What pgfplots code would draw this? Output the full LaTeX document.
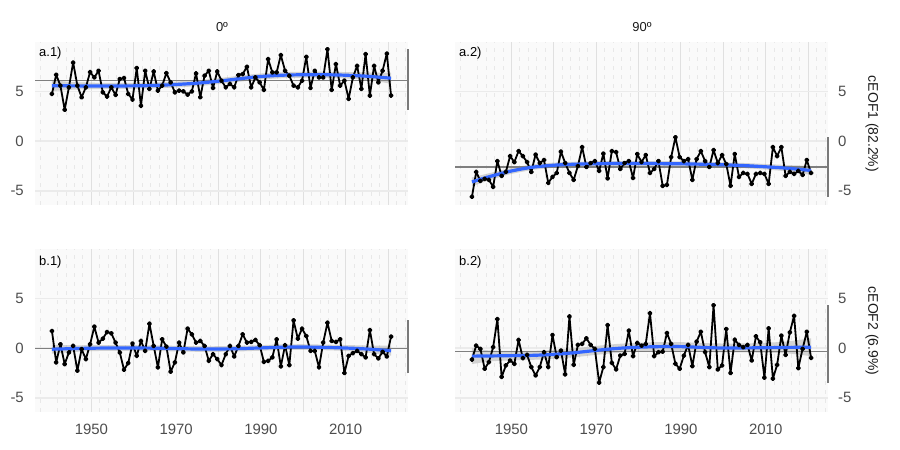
\documentclass[border=0pt]{standalone}
\usepackage{pgfplots}
\pgfplotsset{compat=1.18}
\usepackage{pgfplotstable}
\usepgfplotslibrary{fillbetween}
\usepackage{fontspec}
\setmainfont{Liberation Sans}
\definecolor{panelbg}{HTML}{FAFAFA}
\definecolor{gridx}{HTML}{E0E0E0}
\definecolor{gridy}{HTML}{EBEBEB}
\definecolor{dashc}{HTML}{E8E8E8}
\definecolor{tickc}{HTML}{4D4D4D}
\definecolor{stripc}{HTML}{1A1A1A}
\definecolor{smoothc}{HTML}{3366FF}
\definecolor{bandc}{HTML}{999999}
\definecolor{meanc}{HTML}{7F7F7F}
\definecolor{rangec}{HTML}{7A7A7A}

\pgfplotstableread{
year a1 a2 b1 b2
1941 4.77 -5.6 1.73 -1.14
1942 6.70 -3.1 -1.43 0.26
1943 5.60 -4.0 0.40 -0.07
1944 3.17 -3.8 -1.60 -2.07
1945 5.43 -3.9 -0.43 -1.40
1946 7.93 -4.6 0.23 0.10
1947 5.60 -2.0 -2.27 2.93
1948 4.43 -3.5 -0.10 -2.90
1949 5.43 -3.1 -1.10 -1.74
1950 6.97 -1.5 0.40 -1.24
1951 6.43 -2.1 2.17 -1.57
1952 7.10 -1.0 0.57 0.83
1953 4.93 -1.5 0.97 -1.00
1954 4.50 -2.1 1.63 -0.67
1955 5.43 -3.1 1.50 -1.90
1956 4.67 -1.35 0.57 -2.74
1957 6.27 -2.2 -0.43 -1.90
1958 6.37 -1.9 -2.17 -0.40
1959 4.77 -4.2 -1.50 -1.90
1960 4.20 -3.6 0.47 1.33
1961 7.37 -3.2 -0.77 -0.90
1962 3.57 -1.05 0.73 -0.24
1963 7.10 -2.2 -0.27 -2.64
1964 5.27 -3.2 2.47 3.20
1965 7.03 -3.9 0.23 -1.67
1966 5.10 -2.5 -1.93 0.33
1967 5.60 -0.6 0.90 0.43
1968 6.87 -2.6 0.17 1.00
1969 5.93 -2.2 -2.37 0.33
1970 4.93 -2.0 -1.43 -0.07
1971 5.10 -3.0 0.57 -3.47
1972 5.03 -1.25 -0.43 -1.90
1973 4.70 -3.75 1.97 2.33
1974 5.03 -1.0 1.40 -1.47
1975 6.83 -1.1 0.57 -2.14
1976 4.43 -2.8 0.73 -0.74
1977 6.60 -2.2 0.23 -0.57
1978 7.10 -2.0 -1.27 1.77
1979 5.37 -3.7 -0.60 -0.80
1980 7.03 -1.3 -1.10 0.53
1981 6.10 -2.1 -1.70 0.26
1982 5.43 -1.4 -0.60 0.43
1983 5.77 -3.2 0.23 3.53
1984 5.43 -2.8 -0.83 -0.80
1985 6.67 -2.0 0.23 -0.40
1986 6.77 -4.5 1.40 -0.34
1987 7.50 -4.4 0.57 1.53
1988 5.43 -1.6 0.63 0.43
1989 6.43 0.4 0.83 -1.57
1990 5.93 -1.6 0.30 -2.07
1991 5.17 -2.0 -1.37 -0.74
1992 8.27 -1.8 -1.27 0.33
1993 6.93 -3.9 -0.93 -1.80
1994 6.93 -1.8 0.90 0.66
1995 8.67 -1.0 -1.83 1.66
1996 7.10 -2.0 0.30 -0.40
1997 6.60 -2.6 -1.70 -1.90
1998 5.60 -0.9 2.80 4.33
1999 5.43 -2.2 0.97 -2.14
2000 6.10 -1.4 1.97 -1.74
2001 8.50 -2.3 1.23 1.93
2002 5.37 -4.5 -0.27 -2.50
2003 7.10 -1.3 -0.27 0.86
2004 6.43 -3.6 -1.93 0.33
2005 6.43 -3.2 0.57 0.10
2006 9.27 -3.3 2.57 0.33
2007 5.17 -4.3 0.73 -1.24
2008 7.77 -3.3 0.63 1.20
2009 5.60 -3.2 0.90 0.60
2010 6.10 -3.3 -2.50 -2.97
2011 4.27 -4.3 -0.77 2.00
2012 6.43 -0.6 -0.50 -3.07
2013 7.60 -1.5 -0.27 -1.67
2014 5.27 -0.6 -0.60 1.26
2015 8.77 -3.5 -0.93 -0.67
2016 4.60 -3.1 1.83 1.60
2017 7.60 -3.3 -0.60 3.26
2018 5.93 -3.0 -1.03 -2.00
2019 7.10 -3.4 -0.37 -0.07
2020 8.83 -1.9 -0.83 1.66
2021 4.60 -3.2 1.17 -0.97
}\series

\pgfplotstableread{
year m1 h1 m2 h2 m3 h3 m4 h4
1940.7 5.60 0.55 -4.10 0.45 -0.10 0.45 -0.80 0.80
1945 5.58 0.40 -3.55 0.35 -0.05 0.35 -0.78 0.55
1950 5.57 0.33 -3.00 0.30 0.00 0.30 -0.75 0.48
1955 5.57 0.30 -2.62 0.28 0.02 0.28 -0.72 0.45
1960 5.58 0.30 -2.42 0.26 0.02 0.28 -0.62 0.45
1965 5.62 0.30 -2.32 0.25 0.00 0.28 -0.45 0.45
1970 5.72 0.30 -2.27 0.25 -0.04 0.28 -0.22 0.45
1975 5.85 0.30 -2.25 0.25 -0.08 0.28 -0.02 0.45
1980 6.05 0.30 -2.25 0.25 -0.08 0.28 0.10 0.45
1985 6.30 0.30 -2.26 0.25 -0.04 0.28 0.16 0.45
1990 6.52 0.30 -2.28 0.25 0.03 0.28 0.16 0.45
1995 6.65 0.30 -2.32 0.25 0.10 0.28 0.08 0.45
2000 6.70 0.30 -2.38 0.25 0.12 0.28 0.02 0.45
2005 6.70 0.30 -2.46 0.26 0.08 0.28 0.03 0.45
2010 6.65 0.32 -2.58 0.28 0.02 0.30 0.05 0.50
2015 6.55 0.38 -2.72 0.32 -0.08 0.35 0.08 0.60
2020.7 6.35 0.55 -2.95 0.45 -0.25 0.50 0.10 0.90
}\smoothtab

\pgfplotsset{
  panel/.style={
    scale only axis, width=373bp, height=163bp,
    anchor=south west,
    xmin=1936.7, xmax=2024.7, ymin=-6.43, ymax=10.0,
    axis line style={draw=none},
    axis background/.style={fill=panelbg},
    tick style={draw=none}, major tick length=0pt, minor tick length=0pt,
    xtick={1950,1970,1990,2010},
    minor xtick={1960,1980,2000,2020},
    ytick={-5,0,5},
    grid=both,
    major x grid style={gridx, line width=1bp},
    minor x grid style={gridx, line width=1bp},
    major y grid style={gridy, line width=1.6bp},
    extra x ticks={1938,1942,1944,1946,1948,1952,1954,1956,1958,1962,1964,1966,1968,1972,1974,1976,1978,1982,1984,1986,1988,1992,1994,1996,1998,2002,2004,2006,2008,2012,2014,2016,2018,2022,2024},
    extra x tick labels={},
    extra x tick style={grid=major,
      major x grid style={dashc, line width=0.8bp, dash pattern=on 4bp off 5bp},
      major grid style={dashc, line width=0.8bp, dash pattern=on 4bp off 5bp}},
    /pgf/number format/assume math mode=true,
    /pgf/number format/1000 sep={},
    ticklabel style={font=\fontsize{15}{17}\selectfont, text=tickc, inner sep=0pt},
    xticklabel style={yshift=-12bp},
    clip=false,
  },
  leftpanel/.style={panel, yticklabel style={xshift=-11bp}},
  rightpanel/.style={panel, yticklabel pos=right, yticklabel style={xshift=10bp}},
  toppanel/.style={xticklabels={}},
  datal/.style={black, line width=1.8bp, line join=round, line cap=round, mark=*, mark size=1.6bp, mark options={solid}},
  smoothl/.style={smoothc, line width=3.2bp, smooth, line join=round},
  bandf/.style={fill=bandc, fill opacity=0.4, draw=none},
  meanl/.style={meanc, line width=1.1bp},
  rangel/.style={rangec, line width=1.2bp},
}

\begin{document}
\begin{tikzpicture}
\path (0,0) rectangle (900bp,450bp);

% a.1
\begin{axis}[leftpanel, toppanel, at={(35bp,245bp)}]
\addplot[meanl] coordinates {(1936.7,6.1) (2024.7,6.1)};
\addplot[name path=up1, draw=none, smooth] table[x=year, y expr=\thisrow{m1}+\thisrow{h1}] {\smoothtab};
\addplot[name path=lo1, draw=none, smooth] table[x=year, y expr=\thisrow{m1}-\thisrow{h1}] {\smoothtab};
\addplot[bandf] fill between[of=up1 and lo1];
\addplot[datal] table[x expr=\thisrow{year}-0.3, y=a1] {\series};
\addplot[smoothl] table[x=year, y=m1] {\smoothtab};
\addplot[rangel] coordinates {(2024.7,3.17) (2024.7,9.27)};
\end{axis}

% a.2
\begin{axis}[rightpanel, toppanel, at={(455bp,245bp)}]
\addplot[meanl] coordinates {(1936.7,-2.6) (2024.7,-2.6)};
\addplot[name path=up2, draw=none, smooth] table[x=year, y expr=\thisrow{m2}+\thisrow{h2}] {\smoothtab};
\addplot[name path=lo2, draw=none, smooth] table[x=year, y expr=\thisrow{m2}-\thisrow{h2}] {\smoothtab};
\addplot[bandf] fill between[of=up2 and lo2];
\addplot[datal] table[x expr=\thisrow{year}-0.3, y=a2] {\series};
\addplot[smoothl] table[x=year, y=m2] {\smoothtab};
\addplot[rangel] coordinates {(2024.7,-5.6) (2024.7,0.4)};
\end{axis}

% b.1
\begin{axis}[leftpanel, at={(35bp,38bp)}]
\addplot[meanl] coordinates {(1936.7,0) (2024.7,0)};
\addplot[name path=up3, draw=none, smooth] table[x=year, y expr=\thisrow{m3}+\thisrow{h3}] {\smoothtab};
\addplot[name path=lo3, draw=none, smooth] table[x=year, y expr=\thisrow{m3}-\thisrow{h3}] {\smoothtab};
\addplot[bandf] fill between[of=up3 and lo3];
\addplot[datal] table[x expr=\thisrow{year}-0.3, y=b1] {\series};
\addplot[smoothl] table[x=year, y=m3] {\smoothtab};
\addplot[rangel] coordinates {(2024.7,-2.5) (2024.7,2.8)};
\end{axis}

% b.2
\begin{axis}[rightpanel, at={(455bp,38bp)}]
\addplot[meanl] coordinates {(1936.7,-0.34) (2024.7,-0.34)};
\addplot[name path=up4, draw=none, smooth] table[x=year, y expr=\thisrow{m4}+\thisrow{h4}] {\smoothtab};
\addplot[name path=lo4, draw=none, smooth] table[x=year, y expr=\thisrow{m4}-\thisrow{h4}] {\smoothtab};
\addplot[bandf] fill between[of=up4 and lo4];
\addplot[datal] table[x expr=\thisrow{year}-0.3, y=b2] {\series};
\addplot[smoothl] table[x=year, y=m4] {\smoothtab};
\addplot[rangel] coordinates {(2024.7,-3.47) (2024.7,4.33)};
\end{axis}

% strip labels
\node[font=\fontsize{13}{15}\selectfont, text=stripc] at (222bp,423bp) {0º};
\node[font=\fontsize{13}{15}\selectfont, text=stripc] at (642bp,423bp) {90º};
\node[font=\fontsize{14}{16}\selectfont, text=stripc, rotate=-90] at (872bp,326bp) {cEOF1 (82.2\%)};
\node[font=\fontsize{14}{16}\selectfont, text=stripc, rotate=-90] at (872bp,119bp) {cEOF2 (6.9\%)};
% panel labels
\node[font=\fontsize{13}{15}\selectfont, anchor=west, inner sep=0pt] at (39bp,397bp) {a.1)};
\node[font=\fontsize{13}{15}\selectfont, anchor=west, inner sep=0pt] at (459bp,397bp) {a.2)};
\node[font=\fontsize{13}{15}\selectfont, anchor=west, inner sep=0pt] at (39bp,188bp) {b.1)};
\node[font=\fontsize{13}{15}\selectfont, anchor=west, inner sep=0pt] at (459bp,188bp) {b.2)};
\end{tikzpicture}
\end{document}
